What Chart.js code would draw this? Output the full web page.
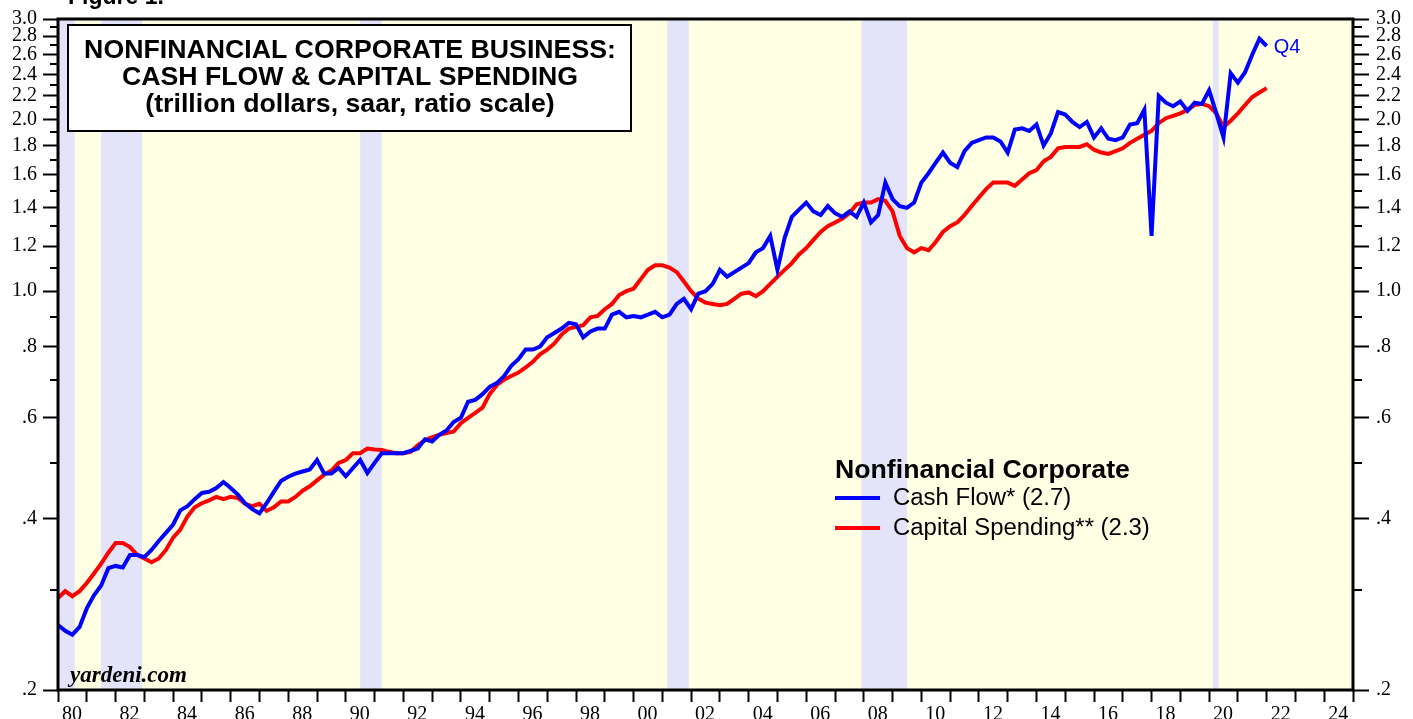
<!DOCTYPE html>
<html>
<head>
<meta charset="utf-8">
<script src="https://cdn.jsdelivr.net/npm/chart.js@4.4.1/dist/chart.umd.min.js"></script>
<style>
  html, body { margin: 0; padding: 0; background: #fff; }
  #wrap { width: 1413px; height: 719px; }
</style>
</head>
<body>
<div id="wrap"><canvas id="chart" width="1413" height="719"></canvas></div>
<script>
// quarterly series, first value is 1979 Q4, last is 2021 Q4
const startYear = 1979;
const startQuarter = 4;

const cashFlow = [
  .260, .254, .250, .258, .278, .293, .305, .327, .330, .328, .345, .345,
  .342, .352, .365, .377, .390, .413, .420, .432, .443, .445, .452, .463,
  .452, .440, .425, .415, .408, .425, .445, .465, .473, .479, .483, .487,
  .506, .479, .479, .490, .474, .490, .506, .480, .500, .520, .520, .520,
  .520, .525, .530, .550, .545, .560, .570, .590, .600, .640, .645, .660,
  .680, .690, .710, .740, .760, .790, .790, .800, .830, .845, .860, .880,
  .875, .830, .850, .860, .860, .910, .920, .900, .905, .900, .910, .920,
  .900, .910, .950, .970, .930, .990, 1.00, 1.03, 1.09, 1.06, 1.08, 1.10,
  1.12, 1.17, 1.19, 1.25, 1.09, 1.24, 1.35, 1.39, 1.43, 1.38, 1.36, 1.41,
  1.37, 1.35, 1.38, 1.35, 1.43, 1.32, 1.36, 1.55, 1.45, 1.41, 1.40, 1.43,
  1.55, 1.61, 1.68, 1.75, 1.68, 1.65, 1.76, 1.82, 1.84, 1.86, 1.86, 1.83,
  1.75, 1.92, 1.93, 1.91, 1.96, 1.80, 1.89, 2.06, 2.04, 1.98, 1.94, 1.98,
  1.86, 1.93, 1.85, 1.84, 1.86, 1.96, 1.97, 2.08, 1.25, 2.20, 2.14, 2.11,
  2.15, 2.07, 2.14, 2.13, 2.25, 2.05, 1.86, 2.41, 2.32, 2.42, 2.60, 2.77,
  2.69
];

const capSpending = [
  .290, .298, .292, .298, .308, .320, .333, .348, .362, .362, .356, .345,
  .340, .335, .340, .352, .370, .382, .403, .418, .425, .430, .436, .432,
  .436, .434, .424, .420, .424, .412, .418, .428, .428, .436, .447, .455,
  .466, .477, .485, .500, .506, .520, .520, .530, .528, .527, .523, .520,
  .520, .523, .537, .548, .555, .560, .564, .568, .587, .600, .612, .625,
  .660, .685, .700, .710, .720, .735, .752, .775, .790, .810, .840, .860,
  .866, .872, .900, .905, .930, .950, .985, 1.00, 1.01, 1.05, 1.09, 1.11,
  1.11, 1.10, 1.08, 1.04, 1.00, .970, .955, .950, .945, .950, .970, .990,
  .995, .980, 1.00, 1.03, 1.06, 1.09, 1.12, 1.16, 1.19, 1.23, 1.27, 1.30,
  1.32, 1.34, 1.37, 1.42, 1.43, 1.43, 1.45, 1.44, 1.38, 1.25, 1.19, 1.17,
  1.19, 1.18, 1.22, 1.27, 1.30, 1.32, 1.36, 1.41, 1.46, 1.51, 1.55, 1.55,
  1.55, 1.53, 1.57, 1.61, 1.63, 1.69, 1.72, 1.78, 1.79, 1.79, 1.79, 1.81,
  1.77, 1.75, 1.74, 1.76, 1.78, 1.82, 1.85, 1.88, 1.91, 1.97, 2.01, 2.03,
  2.05, 2.08, 2.12, 2.13, 2.11, 2.05, 1.94, 1.99, 2.05, 2.12, 2.19, 2.23,
  2.27
];

// recessions as decimal years
const recessions = [
  [1980.0, 1980.58], [1981.5, 1982.92], [1990.5, 1991.25],
  [2001.17, 2001.92], [2007.92, 2009.5], [2020.13, 2020.33]
];

const yMajor = [.2, .4, .6, .8, 1.0, 1.2, 1.4, 1.6, 1.8, 2.0, 2.2, 2.4, 2.6, 2.8, 3.0];
const yMajorLabels = ['.2', '.4', '.6', '.8', '1.0', '1.2', '1.4', '1.6', '1.8', '2.0', '2.2', '2.4', '2.6', '2.8', '3.0'];
const yMinor = [.3, .5, .7, .9, 1.1, 1.3, 1.5, 1.7, 1.9, 2.1, 2.3, 2.5, 2.7, 2.9];
const yearTicks = [];
for (let y = 1980; y <= 2025; y++) yearTicks.push(y);

const quarterLabels = cashFlow.map((_, i) => {
  const n = startQuarter - 1 + i;
  return (startYear + Math.floor(n / 4)) + 'Q' + (n % 4 + 1);
});
// plotted at the end of each quarter
const quarterX = quarterLabels.map(l => +l.slice(0, 4) + +l.slice(5) / 4);

const serif = '"Liberation Serif", "Times New Roman", serif';
const sans = '"Liberation Sans", Arial, sans-serif';

function fitFont(ctx, text, width, style, family) {
  ctx.font = style + ' 100px ' + family;
  return 100 * width / ctx.measureText(text).width;
}

const decor = {
  id: 'decor',
  beforeDatasetsDraw(chart) {
    const { ctx, chartArea: a, scales } = chart;
    ctx.save();
    ctx.fillStyle = '#ffffe3';
    ctx.fillRect(a.left, a.top, a.right - a.left, a.bottom - a.top);
    ctx.fillStyle = '#e3e3fa';
    recessions.forEach(([s, e]) => {
      const x1 = scales.x.getPixelForValue(s);
      const x2 = scales.x.getPixelForValue(e);
      ctx.fillRect(x1, a.top, x2 - x1, a.bottom - a.top);
    });
    ctx.restore();
  },
  afterDatasetsDraw(chart) {
    const { ctx, chartArea: a, scales } = chart;
    ctx.save();
    // frame
    ctx.strokeStyle = '#000';
    ctx.lineWidth = 3;
    ctx.strokeRect(a.left, a.top, a.right - a.left, a.bottom - a.top);
    // minor ticks on both sides
    ctx.lineWidth = 2;
    yMinor.forEach(v => {
      const y = Math.round(scales.y.getPixelForValue(v));
      ctx.beginPath();
      ctx.moveTo(a.left - 8, y); ctx.lineTo(a.left, y);
      ctx.moveTo(a.right, y); ctx.lineTo(a.right + 9, y);
      ctx.stroke();
    });

    // title box
    ctx.fillStyle = '#fff';
    ctx.fillRect(68, 25, 563, 106);
    ctx.lineWidth = 2;
    ctx.strokeRect(68, 25, 563, 106);
    ctx.fillStyle = '#000';
    ctx.textAlign = 'center';
    ctx.textBaseline = 'middle';
    const tSize = fitFont(ctx, 'NONFINANCIAL CORPORATE BUSINESS:', 532, 'bold', sans);
    ctx.font = 'bold ' + tSize + 'px ' + sans;
    ctx.fillText('NONFINANCIAL CORPORATE BUSINESS:', 350, 51);
    ctx.fillText('CASH FLOW & CAPITAL SPENDING', 350, 78);
    ctx.fillText('(trillion dollars, saar, ratio scale)', 350, 105);

    // legend
    ctx.textAlign = 'left';
    const lSize = fitFont(ctx, 'Nonfinancial Corporate', 295, 'bold', sans);
    ctx.font = 'bold ' + lSize + 'px ' + sans;
    ctx.fillText('Nonfinancial Corporate', 835, 471);
    const iSize = fitFont(ctx, 'Capital Spending** (2.3)', 257, '', sans);
    ctx.font = iSize + 'px ' + sans;
    chart.data.datasets.forEach((ds, i) => {
      const y = 498 + i * 30;
      ctx.strokeStyle = ds.borderColor;
      ctx.lineWidth = 4;
      ctx.beginPath();
      ctx.moveTo(835, y); ctx.lineTo(880, y);
      ctx.stroke();
      ctx.fillStyle = '#000';
      ctx.fillText(ds.label, 893, y);
    });

    // last quarter tag
    const n = cashFlow.length - 1;
    ctx.fillStyle = '#0000ff';
    ctx.font = '20px ' + sans;
    ctx.fillText(quarterLabels[n].slice(4),
      scales.x.getPixelForValue(quarterX[n]) + 7,
      scales.y.getPixelForValue(cashFlow[n]) + 1);

    // source
    ctx.fillStyle = '#000';
    const sSize = fitFont(ctx, 'yardeni.com', 117, 'italic bold', serif);
    ctx.font = 'italic bold ' + sSize + 'px ' + serif;
    ctx.fillText('yardeni.com', 70, 676);
    ctx.restore();
  },
  afterDraw(chart) {
    const { ctx } = chart;
    ctx.save();
    ctx.fillStyle = '#000';
    ctx.font = 'bold 23px ' + sans;
    ctx.textBaseline = 'alphabetic';
    ctx.fillText('Figure 1.', 68, 4);
    ctx.restore();
  }
};

function yAxis(position, width, len, pad) {
  return {
    type: 'logarithmic',
    position: position,
    min: 0.2,
    max: 3.0,
    afterBuildTicks: s => { s.ticks = yMajor.map(v => ({ value: v })); },
    afterFit: s => { s.width = width; },
    ticks: {
      autoSkip: false,
      padding: pad,
      color: '#000',
      font: { family: serif, size: 20 },
      callback: v => {
        const k = yMajor.findIndex(m => Math.abs(m - v) < 1e-6);
        return k >= 0 ? yMajorLabels[k] : '';
      }
    },
    grid: { drawOnChartArea: false, tickLength: len, tickColor: '#000', tickWidth: 2 },
    border: { display: false }
  };
}

const ctx = document.querySelector('#chart').getContext('2d');

new Chart(ctx, {
  type: 'line',
  data: {
    labels: quarterLabels,
    datasets: [
      {
        label: 'Cash Flow* (2.7)',
        data: cashFlow.map((v, i) => ({ x: quarterX[i], y: v })),
        borderColor: '#0000ff',
        borderWidth: 4,
        pointRadius: 0,
        tension: 0
      },
      {
        label: 'Capital Spending** (2.3)',
        data: capSpending.map((v, i) => ({ x: quarterX[i], y: v })),
        borderColor: '#ff0000',
        borderWidth: 4,
        pointRadius: 0,
        tension: 0
      }
    ]
  },
  options: {
    responsive: false,
    animation: false,
    devicePixelRatio: 1,
    layout: { padding: { top: 18, left: 0, right: 0, bottom: 0 } },
    plugins: { legend: { display: false }, tooltip: { enabled: false } },
    scales: {
      x: {
        type: 'linear',
        min: 1980,
        max: 2025,
        afterBuildTicks: s => { s.ticks = yearTicks.map(v => ({ value: v })); },
        afterFit: s => { s.height = 29; },
        ticks: {
          autoSkip: false,
          maxRotation: 0,
          labelOffset: 14,
          padding: 1,
          color: '#000',
          font: { family: serif, size: 20 },
          callback: v => (v % 2 === 0 && v < 2025) ? String(v % 100).padStart(2, '0') : ''
        },
        grid: { drawOnChartArea: false, tickLength: 12, tickColor: '#000', tickWidth: 2 },
        border: { display: false }
      },
      y: yAxis('left', 58, 15, 6),
      y2: yAxis('right', 60, 16, 7)
    }
  },
  plugins: [decor]
});
</script>
</body>
</html>
